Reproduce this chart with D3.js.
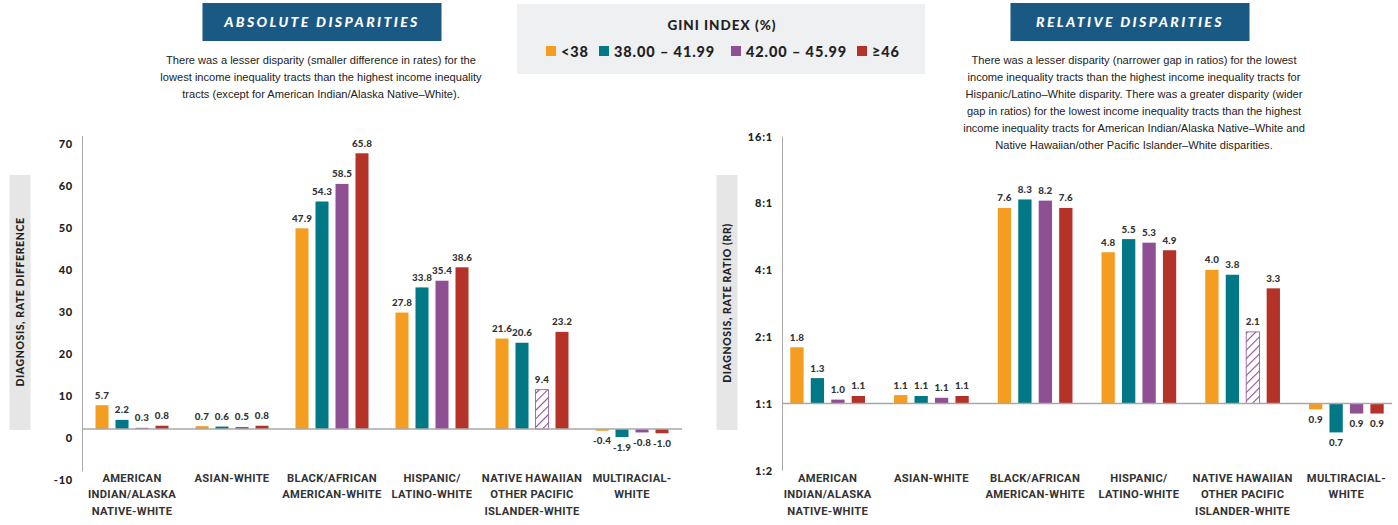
<!DOCTYPE html>
<html>
<head>
<meta charset="utf-8">
<script src="https://cdn.jsdelivr.net/npm/d3@7"></script>
<style>
  body { margin: 0; background: #fff; }
  svg { display: block; }
</style>
</head>
<body>
<svg id="chart" width="1398" height="525"></svg>
<script>
// ---- data ----
const categoryKeys = ["AIAN", "Asian", "Black", "Hispanic", "NHOPI", "Multiracial"];
const categoryLabels = [
  ["AMERICAN", "INDIAN/ALASKA", "NATIVE-WHITE"],
  ["ASIAN-WHITE"],
  ["BLACK/AFRICAN", "AMERICAN-WHITE"],
  ["HISPANIC/", "LATINO-WHITE"],
  ["NATIVE HAWAIIAN", "OTHER PACIFIC", "ISLANDER-WHITE"],
  ["MULTIRACIAL-", "WHITE"]
];
const giniGroups = ["<38", "38.00 – 41.99", "42.00 – 45.99", "≥46"];
const giniColors = ["#f49d20", "#007886", "#8f4f93", "#b53228"];

// rate difference by category, one value per Gini group
const rateDifference = [
  [5.7, 2.2, 0.3, 0.8],
  [0.7, 0.6, 0.5, 0.8],
  [47.9, 54.3, 58.5, 65.8],
  [27.8, 33.8, 35.4, 38.6],
  [21.6, 20.6, 9.4, 23.2],
  [-0.4, -1.9, -0.8, -1.0]
];
// rate ratio by category, one value per Gini group
const rateRatio = [
  [1.79, 1.30, 1.04, 1.08],
  [1.09, 1.08, 1.06, 1.08],
  [7.6, 8.3, 8.2, 7.6],
  [4.8, 5.5, 5.3, 4.9],
  [4.0, 3.8, 2.1, 3.3],
  [0.94, 0.74, 0.90, 0.90]
];
// estimates flagged as unstable (drawn hatched): [category index, group index]
const unstable = [[4, 2]];

const diffTicks = [-10, 0, 10, 20, 30, 40, 50, 60, 70];
const ratioTicks = [0.5, 1, 2, 4, 8, 16];

const absoluteNote = [
  "There was a lesser disparity (smaller difference in rates) for the",
  "lowest income inequality tracts than the highest income inequality",
  "tracts (except for American Indian/Alaska Native–White)."
];
const relativeNote = [
  "There was a lesser disparity (narrower gap in ratios) for the lowest",
  "income inequality tracts than the highest income inequality tracts for",
  "Hispanic/Latino–White disparity. There was a greater disparity (wider",
  "gap in ratios) for the lowest income inequality tracts than the highest",
  "income inequality tracts for American Indian/Alaska Native–White and",
  "Native Hawaiian/other Pacific Islander–White disparities."
];

// ---- drawing ----
const svg = d3.select("#chart");
const TXT = "#222";
const numFont = "Lato, 'DejaVu Sans', sans-serif";
const bodyFont = "'Liberation Sans', Arial, sans-serif";
const catFont = "Roboto, 'Liberation Sans', sans-serif";

// hatch pattern for unstable estimates
const defs = svg.append("defs");
const pat = defs.append("pattern")
  .attr("id", "hatch")
  .attr("patternUnits", "userSpaceOnUse")
  .attr("width", 6).attr("height", 6)
  .attr("patternTransform", "rotate(45)");
pat.append("rect").attr("width", 6).attr("height", 6).attr("fill", "#fff");
pat.append("line").attr("x1", 0).attr("y1", 0).attr("x2", 0).attr("y2", 6)
  .attr("stroke", giniColors[2]).attr("stroke-width", 2.2);

function isUnstable(ci, gi) {
  return unstable.some(u => u[0] === ci && u[1] === gi);
}

function header(cx, text, boxW) {
  const g = svg.append("g");
  g.append("rect").attr("x", cx - boxW / 2).attr("y", 3).attr("width", boxW).attr("height", 38)
    .attr("fill", "#1b5985");
  g.append("text").attr("x", cx).attr("y", 27)
    .attr("text-anchor", "middle")
    .attr("fill", "#fff")
    .attr("font-family", numFont)
    .attr("font-weight", 900)
    .attr("font-style", "italic")
    .attr("font-size", 14)
    .attr("letter-spacing", 2.4)
    .text(text);
}

function note(cx, y0, lines) {
  const t = svg.append("text")
    .attr("text-anchor", "middle")
    .attr("fill", TXT)
    .attr("font-family", bodyFont)
    .attr("font-size", 11.1);
  lines.forEach((l, i) => {
    t.append("tspan").attr("x", cx).attr("y", y0 + i * 17).text(l);
  });
}

header(322, "ABSOLUTE DISPARITIES", 239);
note(321, 64, absoluteNote);
header(1130, "RELATIVE DISPARITIES", 239);
note(1134, 64, relativeNote);

// legend
const lg = svg.append("g");
lg.append("rect").attr("x", 517).attr("y", 4).attr("width", 408).attr("height", 70).attr("fill", "#eef0f2");
lg.append("text").attr("x", 722).attr("y", 30).attr("text-anchor", "middle")
  .attr("font-family", numFont).attr("font-weight", 900).attr("font-size", 13.5)
  .attr("letter-spacing", 1).attr("fill", TXT).text("GINI INDEX (%)");
const legendX = [546, 599, 731, 857];
giniGroups.forEach((g, i) => {
  lg.append("rect").attr("x", legendX[i]).attr("y", 46).attr("width", 10).attr("height", 10)
    .attr("fill", giniColors[i]);
  lg.append("text").attr("x", legendX[i] + 15).attr("y", 56.5)
    .attr("font-family", numFont).attr("font-weight", 900).attr("font-size", 14.5)
    .attr("letter-spacing", 0.9).attr("fill", TXT).text(g);
});

function yTitle(cx, cy, text) {
  svg.append("rect").attr("x", cx - 10.5).attr("y", 175).attr("width", 21).attr("height", 255)
    .attr("fill", "#e6e6e6");
  svg.append("text").attr("transform", `translate(${cx + 3.8},${cy}) rotate(-90)`)
    .attr("text-anchor", "middle")
    .attr("font-family", numFont).attr("font-weight", 900).attr("font-size", 10.5)
    .attr("letter-spacing", 0.6).attr("fill", TXT).text(text);
}

function drawPanel(opts) {
  const { values, y, xRange, tickVals, tickFmt, tickDy, baseVal } = opts;
  const x0 = d3.scaleBand().domain(categoryKeys).range(xRange)
    .paddingInner(opts.padIn).paddingOuter(opts.padOut);
  const x1 = d3.scaleBand().domain(giniGroups).range([0, x0.bandwidth()]).paddingInner(0.35);
  const yBase = y(baseVal);
  const g = svg.append("g");

  // y axis
  const ax = g.append("g").attr("transform", `translate(${xRange[0]},0)`)
    .call(d3.axisLeft(y).tickValues(tickVals).tickFormat(tickFmt).tickSize(0).tickPadding(9));
  ax.select(".domain").attr("stroke", "#a8a8a8").attr("stroke-width", 1);
  ax.selectAll("text")
    .attr("font-family", numFont).attr("font-weight", 900).attr("font-size", 11)
    .attr("letter-spacing", 0.8).attr("fill", TXT).attr("dy", tickDy);

  // bars
  values.forEach((row, ci) => {
    const cg = g.append("g").attr("transform", `translate(${x0(categoryKeys[ci])},0)`);
    row.forEach((v, gi) => {
      const yv = y(v);
      const hatched = isUnstable(ci, gi);
      cg.append("rect")
        .attr("x", x1(giniGroups[gi]))
        .attr("y", Math.min(yv, yBase))
        .attr("width", x1.bandwidth())
        .attr("height", Math.abs(yBase - yv))
        .attr("fill", hatched ? "url(#hatch)" : giniColors[gi])
        .attr("stroke", hatched ? giniColors[gi] : "none")
        .attr("stroke-width", hatched ? 0.8 : 0);
      cg.append("text")
        .attr("x", x1(giniGroups[gi]) + x1.bandwidth() / 2)
        .attr("y", v >= baseVal ? yv - 6.5 : yv + 13.5)
        .attr("text-anchor", "middle")
        .attr("font-family", numFont).attr("font-weight", 900).attr("font-size", 9.8)
        .attr("letter-spacing", 0.2)
        .attr("fill", "#333")
        .text(v.toFixed(1));
    });
  });

  // baseline
  g.append("line").attr("x1", xRange[0]).attr("x2", xRange[1])
    .attr("y1", yBase).attr("y2", yBase)
    .attr("stroke", "#a8a8a8").attr("stroke-width", 1.5);

  // category labels
  categoryKeys.forEach((k, ci) => {
    const t = g.append("text")
      .attr("text-anchor", "middle")
      .attr("font-family", catFont).attr("font-weight", 700).attr("font-size", 11.2)
      .attr("letter-spacing", 0.3).attr("fill", "#333");
    categoryLabels[ci].forEach((line, li) => {
      t.append("tspan").attr("x", x0(k) + x0.bandwidth() / 2).attr("y", 482 + li * 16.3).text(line);
    });
  });
}

// absolute disparities: rate difference
const yDiff = d3.scaleLinear().domain([-10, 70]).range([471, 135.7]);
yTitle(20, 302, "DIAGNOSIS, RATE DIFFERENCE");
drawPanel({
  values: rateDifference, y: yDiff, xRange: [82, 682],
  padIn: 0.27, padOut: 0.135,
  tickVals: diffTicks, tickFmt: d => String(d), tickDy: "1.1em", baseVal: 0
});

// relative disparities: rate ratio (log2 scale)
const yRatio = d3.scaleLog().base(2).domain([0.5, 16]).range([470.2, 136.2]);
yTitle(727, 303, "DIAGNOSIS, RATE RATIO (RR)");
drawPanel({
  values: rateRatio, y: yRatio, xRange: [782, 1392],
  padIn: 0.28, padOut: 0.08,
  tickVals: ratioTicks, tickFmt: d => d >= 1 ? d + ":1" : "1:" + (1 / d), tickDy: "0.35em", baseVal: 1
});
</script>
</body>
</html>
